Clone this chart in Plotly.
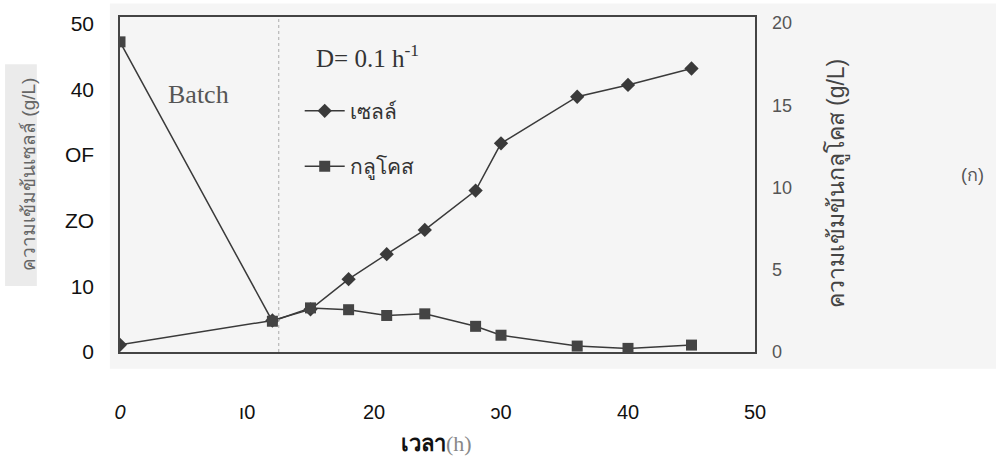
import plotly.graph_objects as go

# ---- data ----
time_h = [0, 12, 15, 18, 21, 24, 28, 30, 36, 40, 45]
cells = [1.1, 4.8, 6.5, 11.1, 14.9, 18.6, 24.6, 31.8, 38.9, 40.7, 43.2]
glucose = [18.85, 1.87, 2.68, 2.57, 2.22, 2.32, 1.56, 1.02, 0.36, 0.22, 0.42]
switch_time = 12.5

x_tickvals = [0, 10, 20, 30, 40, 50]
x_ticktext = ["<i>0</i>", "ı0", "20", "ɔ0", "40", "50"]
y1_tickvals = [0, 10, 20, 30, 40, 50]
y1_ticktext = ["0", "10", "ZO", "OF", "40", "50"]
y2_tickvals = [0, 5, 10, 15, 20]
y2_ticktext = ["0", "5", "10", "15", "20"]

serif = "Liberation Serif, Times New Roman, serif"
sans = "Liberation Sans, Arial, sans-serif"

fig = go.Figure()
fig.add_trace(go.Scatter(
    x=time_h, y=cells, name="เซลล์", mode="lines+markers",
    line=dict(color="#3a3a3a", width=1.5),
    marker=dict(symbol="diamond", size=11, color="#3a3a3a"),
    legendgroup="a", yaxis="y"))
fig.add_trace(go.Scatter(
    x=time_h, y=glucose, name="กลูโคส", mode="lines+markers",
    line=dict(color="#3a3a3a", width=1.5),
    marker=dict(symbol="square", size=11, color="#444444"),
    legendgroup="b", yaxis="y2"))

fig.add_vline(x=switch_time, line=dict(color="#aaaaaa", width=1, dash="dot"))

# scanned-page background tints
fig.add_shape(type="rect", xref="paper", yref="paper", x0=-0.016, x1=1.40, y0=-0.05, y1=1.04,
              fillcolor="#f5f5f5", line_width=0, layer="below")
fig.add_shape(type="rect", xref="paper", yref="paper", x0=-0.181, x1=-0.131, y0=0.197, y1=0.859,
              fillcolor="#ebebeb", line_width=0, layer="below")

def note(text, x, y, font, angle=0):
    return dict(text=text, x=x, y=y, xref="paper", yref="paper", showarrow=False,
                xanchor="center", yanchor="middle", textangle=angle, font=font)

fig.update_layout(
    width=996, height=463, autosize=False,
    margin=dict(l=120, r=241, t=12, b=111),
    paper_bgcolor="white", plot_bgcolor="rgba(0,0,0,0)",
    showlegend=True,
    legend=dict(x=0.283, y=0.78, xanchor="left", yanchor="top", bgcolor="rgba(0,0,0,0)",
                font=dict(family=sans, size=21, color="#333"), tracegroupgap=25,
                itemwidth=40),
    xaxis=dict(range=[0, 50], tickvals=x_tickvals, ticktext=x_ticktext, ticks="",
               showgrid=False, zeroline=False, showline=True, mirror=True,
               linecolor="#444", linewidth=1.5, ticklabelstandoff=41,
               tickfont=dict(family=sans, size=20, color="#111")),
    yaxis=dict(range=[0, 51.05], tickvals=y1_tickvals, ticktext=y1_ticktext, ticks="",
               showgrid=False, zeroline=False, showline=True, mirror=True,
               linecolor="#444", linewidth=1.5, ticklabelstandoff=20,
               tickfont=dict(family=sans, size=21, color="#111")),
    yaxis2=dict(range=[0, 20.36], tickvals=y2_tickvals, ticktext=y2_ticktext, ticks="",
                overlaying="y", side="right", showgrid=False, zeroline=False,
                showline=False, ticklabelstandoff=16,
                tickfont=dict(family=sans, size=18, color="#555")),
    annotations=[
        note("Batch", 0.123, 0.768, dict(family=serif, size=26, color="#555")),
        note("D= 0.1 h<sup>-1</sup>", 0.39, 0.885, dict(family=serif, size=25, color="#333")),
        note("(ก)", 1.342, 0.529, dict(family=sans, size=18, color="#555")),
        note("<b>เวลา</b><span style='color:#888;font-family:Liberation Serif'>(h)</span>",
             0.498, -0.272, dict(family=sans, size=22, color="#111")),
        note("ความเข้มข้นเซลล์ (g/L)", -0.143, 0.529, dict(family=sans, size=19, color="#666"), -90),
        note("ความเข้มข้นกลูโคส (g/L)", 1.129, 0.503, dict(family=sans, size=23, color="#444"), -90),
    ],
)

fig.write_html("out.html", config={"displayModeBar": False},
               post_script="document.body.style.margin='0px';")
